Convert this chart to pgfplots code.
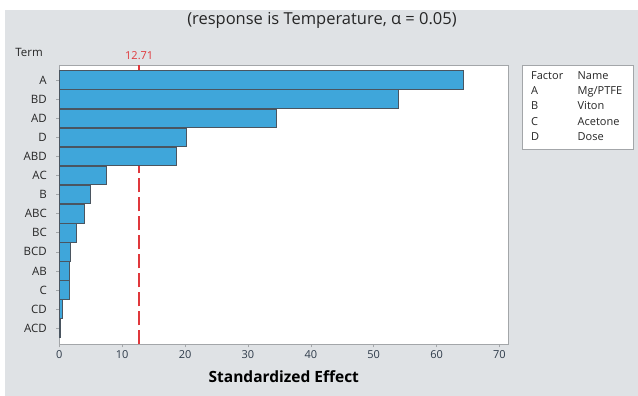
\documentclass[border=0pt]{standalone}
\usepackage{pgfplots}
\pgfplotsset{compat=1.18}
\usepackage{fontspec}
\setmainfont{Open Sans}
\definecolor{bgray}{HTML}{DFE2E5}
\definecolor{barblue}{HTML}{3FA6DA}
\definecolor{baredge}{HTML}{4A5560}
\definecolor{framegray}{HTML}{A3A6A9}
\definecolor{critred}{HTML}{E0383C}
\definecolor{numcol}{HTML}{2E3B4A}
\begin{document}
\begin{tikzpicture}
\fill[white] (0pt,0pt) rectangle (638pt,396pt);
\fill[bgray] (5pt,0pt) rectangle (638pt,386pt);
\node[font=\fontsize{16.5}{19}\selectfont, text=black!85] at (322pt,375.5pt) {(response is Temperature, α = 0.05)};
\node[font=\fontsize{11.5}{13}\selectfont, text=black!85] at (29pt,344pt) {Term};
\begin{axis}[
  at={(59.3pt,51.7pt)}, anchor=south west,
  scale only axis, width=449pt, height=279.3pt,
  xmin=0, xmax=71.4, ymin=0.16, ymax=14.785,
  axis background/.style={fill=white},
  axis line style={framegray, line width=0.9pt},
  xtick={0,10,...,70},
  ytick={1,...,14},
  yticklabels={ACD,CD,C,AB,BCD,BC,ABC,B,AC,ABD,D,AD,BD,A},
  tick align=outside, tick pos=left,
  major tick length=3pt,
  every tick/.style={framegray, line width=0.6pt},
  /pgf/number format/assume math mode=true,
  xticklabel style={font=\fontsize{11}{12}\selectfont, text=numcol},
  yticklabel style={font=\fontsize{11.5}{13}\selectfont, text=black!85, xshift=-6pt},
  xlabel={Standardized Effect},
  xlabel style={font=\fontsize{15.5}{18}\selectfont\bfseries, text=black, yshift=-5pt},
  clip=false,
]
\addplot[critred, mark=none, line width=1.6pt, dash pattern=on 14pt off 5pt, forget plot] coordinates {(12.71,0.16) (12.71,14.785)};
\node[font=\fontsize{11}{12}\selectfont, text=critred, anchor=south] at (axis cs:12.71,14.785) [yshift=2pt] {12.71};
\addplot[xbar, bar width=0.97, fill=barblue, draw=baredge, line width=0.8pt] coordinates {
 (64.3,14) (53.9,13) (34.56,12) (20.14,11) (18.66,10) (7.53,9) (4.93,8)
 (3.93,7) (2.65,6) (1.75,5) (1.54,4) (1.54,3) (0.43,2) (0.2,1)
};
\end{axis}
\draw[framegray, line width=0.9pt, fill=white] (522pt,247pt) rectangle (633pt,331pt);
\begin{scope}[every node/.style={font=\fontsize{11}{12}\selectfont, text=black!85, anchor=base west, inner sep=0pt}]
\node at (531pt,316pt) {Factor}; \node at (577.5pt,316pt) {Name};
\node at (531pt,301pt) {A}; \node at (577.5pt,301pt) {Mg/PTFE};
\node at (531pt,286pt) {B}; \node at (577.5pt,286pt) {Viton};
\node at (531pt,270.5pt) {C}; \node at (577.5pt,270.5pt) {Acetone};
\node at (531pt,255pt) {D}; \node at (577.5pt,255pt) {Dose};
\end{scope}
\end{tikzpicture}
\end{document}
